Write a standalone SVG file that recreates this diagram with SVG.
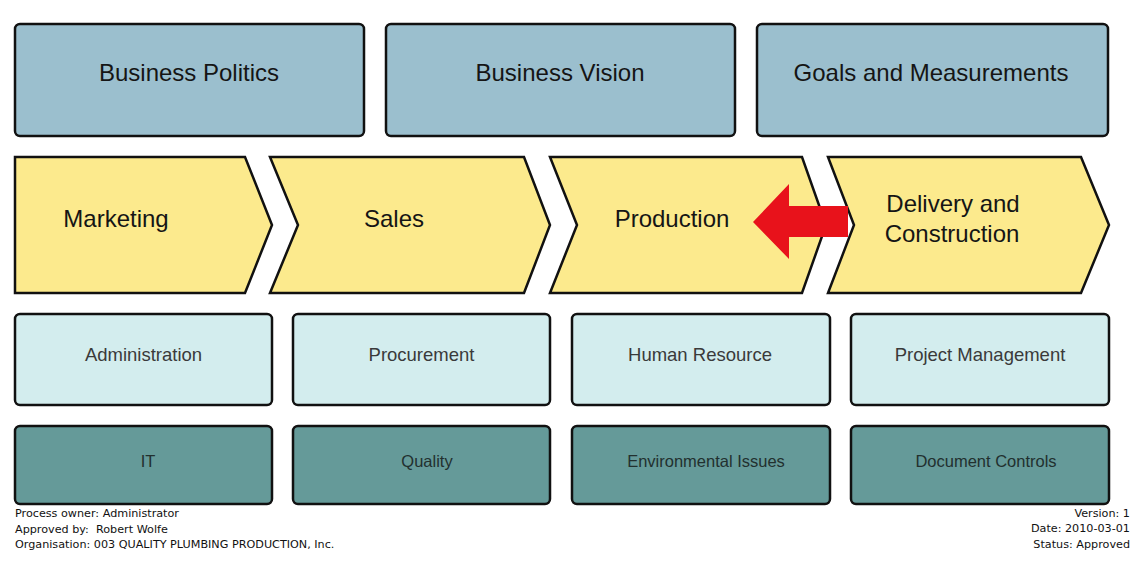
<svg xmlns="http://www.w3.org/2000/svg" width="1137" height="573" viewBox="0 0 1137 573">
<style>
.top{fill:#9BBFCE;stroke:#111;stroke-width:2.5}
.chev{fill:#FCEA8D;stroke:#111;stroke-width:2.5;stroke-linejoin:miter}
.mid{fill:#D3EDEE;stroke:#111;stroke-width:2.5}
.bot{fill:#659A99;stroke:#111;stroke-width:2.5}
.big{font-family:"Liberation Sans",Arial,sans-serif;font-size:24px;fill:#151515;text-anchor:middle}
.med{font-family:"Liberation Sans",Arial,sans-serif;font-size:18.5px;fill:#3a3a3a;text-anchor:middle}
.sm{font-family:"Liberation Sans",Arial,sans-serif;font-size:16.5px;fill:#22302f;text-anchor:middle}
.ft{font-family:"DejaVu Sans",Verdana,sans-serif;font-size:11.2px;fill:#111}
</style>
<rect width="1137" height="573" fill="#fff"/>
<g id="business-politics"><rect class="top" x="15" y="24" width="349" height="112" rx="5"/><text class="big" x="189" y="81">Business Politics</text></g>
<g id="business-vision"><rect class="top" x="386" y="24" width="349" height="112" rx="5"/><text class="big" x="560" y="81">Business Vision</text></g>
<g id="goals"><rect class="top" x="757" y="24" width="351" height="112" rx="5"/><text class="big" x="931" y="81">Goals and Measurements</text></g>

<g id="marketing"><polygon class="chev" points="15,157 245,157 272,225 245,293 15,293"/><text class="big" x="116" y="227">Marketing</text></g>
<g id="sales"><polygon class="chev" points="270,157 524,157 550,225 524,293 270,293 298,225"/><text class="big" x="394" y="227">Sales</text></g>
<g id="production"><polygon class="chev" points="550,157 802,157 826,225 802,293 550,293 577,225"/><text class="big" x="672" y="227">Production</text></g>
<g id="delivery"><polygon class="chev" points="828,157 1081,157 1109,225 1081,293 828,293 854,225"/><text class="big" x="953" y="212">Delivery and</text><text class="big" x="952" y="242">Construction</text></g>

<g id="administration"><rect class="mid" x="15" y="314" width="257" height="91" rx="5"/><text class="med" x="143.5" y="361">Administration</text></g>
<g id="procurement"><rect class="mid" x="293" y="314" width="257" height="91" rx="5"/><text class="med" x="421.5" y="361">Procurement</text></g>
<g id="human-resource"><rect class="mid" x="572" y="314" width="258" height="91" rx="5"/><text class="med" x="700" y="361">Human Resource</text></g>
<g id="project-management"><rect class="mid" x="851" y="314" width="258" height="91" rx="5"/><text class="med" x="980" y="361">Project Management</text></g>

<g id="it"><rect class="bot" x="15" y="426" width="257" height="78" rx="5"/><text class="sm" x="148" y="467">IT</text></g>
<g id="quality"><rect class="bot" x="293" y="426" width="257" height="78" rx="5"/><text class="sm" x="427" y="467">Quality</text></g>
<g id="environmental"><rect class="bot" x="572" y="426" width="258" height="78" rx="5"/><text class="sm" x="706" y="467">Environmental Issues</text></g>
<g id="document-controls"><rect class="bot" x="851" y="426" width="258" height="78" rx="5"/><text class="sm" x="986" y="467">Document Controls</text></g>

<g id="connectors"><polygon fill="#E8121B" points="753,222 789,184 789,206 848,206 848,237 789,237 789,259"/></g>

<g id="footer">
<text class="ft" x="15" y="517">Process owner: Administrator</text>
<text class="ft" x="15" y="533" xml:space="preserve">Approved by:  Robert Wolfe</text>
<text class="ft" x="15" y="548">Organisation: 003 QUALITY PLUMBING PRODUCTION, Inc.</text>
<text class="ft" x="1130" y="517" text-anchor="end">Version: 1</text>
<text class="ft" x="1130" y="532" text-anchor="end">Date: 2010-03-01</text>
<text class="ft" x="1130" y="548" text-anchor="end">Status: Approved</text>
</g>
</svg>
